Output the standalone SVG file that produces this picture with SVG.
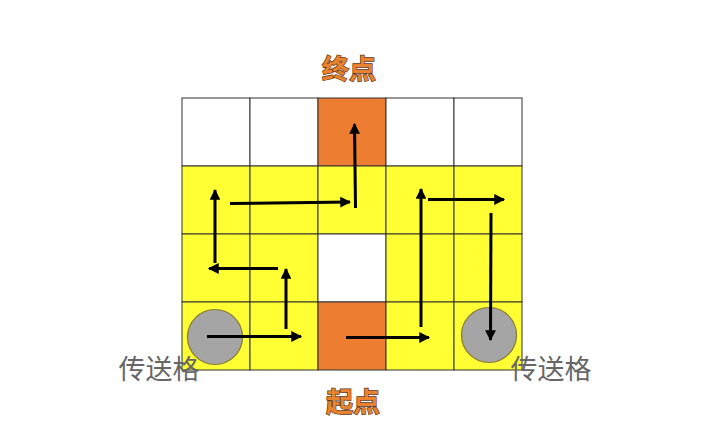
<svg xmlns="http://www.w3.org/2000/svg" width="708" height="435" viewBox="0 0 708 435">
<defs>
<marker id="ah" viewBox="0 0 10 10" refX="9" refY="5" markerWidth="4.2" markerHeight="3.6" orient="auto" markerUnits="strokeWidth">
<path d="M0,0 L10,5 L0,10 z" fill="#000"/>
</marker>
<style>
.y{fill:#FFFF33;stroke:#333;stroke-width:1}
.w{fill:#FFFFFF;stroke:#333;stroke-width:1}
.o{fill:#ED7D31;stroke:#333;stroke-width:1}
.c{fill:#A5A5A5;stroke:#8A7A30;stroke-width:1.2}
.a{stroke:#000;stroke-width:3;fill:none;marker-end:url(#ah)}
.t{font-family:"Noto Sans CJK SC","Noto Sans CJK JP",sans-serif;font-size:27px;fill:#666666;text-anchor:middle}
.h{font-family:"Noto Sans CJK SC","Noto Sans CJK JP",sans-serif;font-size:27px;font-weight:bold;fill:#E8822E;stroke:#5a3210;stroke-width:1.3;paint-order:stroke;text-anchor:middle}
</style>
</defs>
<rect width="708" height="435" fill="#fff"/>
<g id="grid">
<rect class="w" x="182" y="98" width="68" height="68"/>
<rect class="w" x="250" y="98" width="68" height="68"/>
<rect class="o" x="318" y="98" width="68" height="68"/>
<rect class="w" x="386" y="98" width="68" height="68"/>
<rect class="w" x="454" y="98" width="68" height="68"/>
<rect class="y" x="182" y="166" width="68" height="68"/>
<rect class="y" x="250" y="166" width="68" height="68"/>
<rect class="y" x="318" y="166" width="68" height="68"/>
<rect class="y" x="386" y="166" width="68" height="68"/>
<rect class="y" x="454" y="166" width="68" height="68"/>
<rect class="y" x="182" y="234" width="68" height="68"/>
<rect class="y" x="250" y="234" width="68" height="68"/>
<rect class="w" x="318" y="234" width="68" height="68"/>
<rect class="y" x="386" y="234" width="68" height="68"/>
<rect class="y" x="454" y="234" width="68" height="68"/>
<rect class="y" x="182" y="302" width="68" height="68"/>
<rect class="y" x="250" y="302" width="68" height="68"/>
<rect class="o" x="318" y="302" width="68" height="68"/>
<rect class="y" x="386" y="302" width="68" height="68"/>
<rect class="y" x="454" y="302" width="68" height="68"/>
</g>
<g id="portal-left"><circle class="c" cx="215" cy="337" r="27.5"/></g>
<g id="portal-right"><circle class="c" cx="489" cy="335" r="27.5"/></g>
<g id="connectors">
<line class="a" x1="207" y1="336.5" x2="301" y2="336.5"/>
<line class="a" x1="286" y1="329" x2="286" y2="269"/>
<line class="a" x1="278" y1="268.5" x2="209" y2="268.5"/>
<line class="a" x1="215" y1="263" x2="215" y2="190"/>
<line class="a" x1="230" y1="203.5" x2="350" y2="202"/>
<line class="a" x1="355.5" y1="208" x2="354.5" y2="124"/>
<line class="a" x1="346" y1="337.5" x2="429" y2="337.5"/>
<line class="a" x1="421" y1="327" x2="421" y2="189"/>
<line class="a" x1="428" y1="199.5" x2="504" y2="199.5"/>
<line class="a" x1="491" y1="213" x2="490.5" y2="340"/>
</g>
<g id="labels">
<text class="h" x="349" y="79">终点</text>
<text class="h" x="353" y="412">起点</text>
<text class="t" x="159" y="379">传送格</text>
<text class="t" x="551" y="379">传送格</text>
</g>
</svg>
